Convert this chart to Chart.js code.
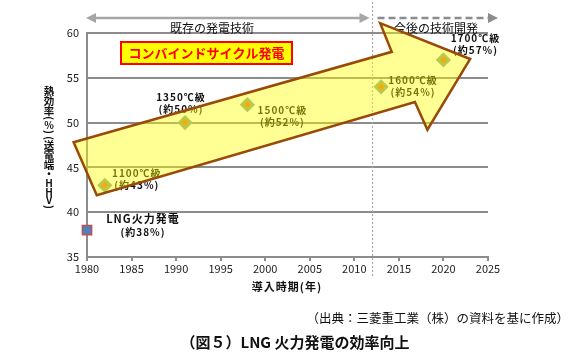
<!DOCTYPE html>
<html>
<head>
<meta charset="utf-8">
<script src="https://cdn.jsdelivr.net/npm/chart.js@4"></script>
<style>
  html, body { margin: 0; padding: 0; background: #fff; }
  #wrap { width: 588px; height: 364px; position: relative; }
</style>
</head>
<body>
<div id="wrap"><canvas id="c" width="588" height="364"></canvas></div>
<script>
// Data
const years = [1982, 1991, 1998, 2013, 2020];
const efficiency = [43, 50, 52, 54, 57];
const classes = ["1100℃級", "1350℃級", "1500℃級", "1600℃級", "1700℃級"];
const lngYear = 1980;
const lngEff = 38;
const boundaryYear = 2012;
const arrowX = [1978.5, 2014.2, 2012.9, 2023.0, 2018.2, 2016.8, 1981.1];
const arrowY = [47.8, 57.9, 61.1, 57.1, 49.2, 52.3, 41.9];

const FONT = '"Noto Sans CJK JP", "Noto Sans", sans-serif';

// label offsets from each point (px), center aligned
const labelOff = [[32, -12], [-4, -25], [35, 6], [32, -7], [32, -22]];

// vertical y title: char + center y
const yTitle = [["熱", 91], ["効", 101], ["率", 111], ["(", 118], ["%", 125], [")", 132], ["(", 138],
  ["送", 145], ["電", 155], ["端", 165], ["・", 174], ["H", 183], ["H", 192], ["V", 200], [")", 207]];

const deco = {
  id: "deco",
  afterDatasetsDraw(chart) {
    const { ctx, scales: { x, y }, chartArea: a } = chart;
    ctx.save();
    ctx.textAlign = "center";
    ctx.textBaseline = "middle";

    // point labels
    ctx.letterSpacing = "1px";
    ctx.font = "bold 10px " + FONT;
    ctx.fillStyle = "#111";
    years.forEach((yr, i) => {
      const px = x.getPixelForValue(yr), py = y.getPixelForValue(efficiency[i]);
      const [dx, dy] = labelOff[i];
      ctx.fillText(classes[i], px + dx, py + dy);
      ctx.fillText(`(約${efficiency[i]}%)`, px + dx, py + dy + 12);
    });
    const lx = x.getPixelForValue(lngYear), ly = y.getPixelForValue(lngEff);
    ctx.font = "bold 11px " + FONT;
    ctx.fillText("LNG火力発電", lx + 56, ly - 11);
    ctx.font = "bold 10px " + FONT;
    ctx.fillText(`(約${lngEff}%)`, lx + 56, ly + 2);
    ctx.letterSpacing = "0px";

    // combined cycle box
    ctx.fillStyle = "#ffff00";
    ctx.fillRect(121, 42, 171, 22);
    ctx.strokeStyle = "#ff0000";
    ctx.lineWidth = 2;
    ctx.strokeRect(121, 42, 171, 22);
    ctx.fillStyle = "#ff0000";
    ctx.font = "bold 13px " + FONT;
    ctx.fillText("コンバインドサイクル発電", 206.5, 53.5);

    // dotted boundary
    const bx = Math.round(x.getPixelForValue(boundaryYear)) + 0.5;
    ctx.strokeStyle = "#aaa";
    ctx.lineWidth = 1.2;
    ctx.setLineDash([2, 2]);
    ctx.beginPath();
    ctx.moveTo(bx, 2);
    ctx.lineTo(bx, a.bottom + 20);
    ctx.stroke();

    // top arrows
    const ay = 18;
    ctx.strokeStyle = "#a6a6a6";
    ctx.fillStyle = "#a6a6a6";
    ctx.lineWidth = 2.5;
    ctx.setLineDash([]);
    ctx.beginPath();
    ctx.moveTo(a.left + 4, ay);
    ctx.lineTo(bx - 6, ay);
    ctx.stroke();
    const head = (hx, dir) => {
      ctx.beginPath();
      ctx.moveTo(hx, ay);
      ctx.lineTo(hx - dir * 10, ay - 5);
      ctx.lineTo(hx - dir * 10, ay + 5);
      ctx.closePath();
      ctx.fill();
    };
    head(a.left - 1, -1);
    head(bx - 3, 1);
    ctx.strokeStyle = "#8c8c8c";
    ctx.fillStyle = "#8c8c8c";
    ctx.setLineDash([7, 4]);
    ctx.beginPath();
    ctx.moveTo(bx + 5, ay);
    ctx.lineTo(a.right + 4, ay);
    ctx.stroke();
    ctx.setLineDash([]);
    head(a.right + 10, 1);

    ctx.fillStyle = "#111";
    ctx.font = "12px " + FONT;
    ctx.fillText("既存の発電技術", 212, 28);
    ctx.fillText("今後の技術開発", 436, 28);

    // big arrow (translucent, on top)
    ctx.beginPath();
    arrowX.forEach((v, i) => {
      const px = x.getPixelForValue(v), py = y.getPixelForValue(arrowY[i]);
      if (i === 0) ctx.moveTo(px, py); else ctx.lineTo(px, py);
    });
    ctx.closePath();
    ctx.fillStyle = "rgba(255,255,0,0.42)";
    ctx.fill();
    ctx.strokeStyle = "#9a4a08";
    ctx.lineWidth = 2.5;
    ctx.lineJoin = "miter";
    ctx.stroke();

    // vertical y title
    ctx.fillStyle = "#111";
    yTitle.forEach(([ch, cy]) => {
      ctx.font = (/[HV%]/.test(ch) ? "bold 10px " : "bold 10.5px ") + FONT;
      if (ch === "(" || ch === ")") {
        ctx.save();
        ctx.translate(49, cy);
        ctx.rotate(Math.PI / 2);
        ctx.fillText(ch, 0, 0);
        ctx.restore();
      } else {
        ctx.fillText(ch, 49, cy);
      }
    });

    // axis title & captions
    ctx.font = "bold 11px " + FONT;
    ctx.letterSpacing = "1px";
    ctx.fillText("導入時期(年)", 287, 287);
    ctx.letterSpacing = "0px";
    ctx.textAlign = "right";
    ctx.font = "12.5px " + FONT;
    ctx.fillText("（出典：三菱重工業（株）の資料を基に作成）", 569, 318);
    ctx.textAlign = "center";
    ctx.font = "bold 15px " + FONT;
    ctx.fillText("（図５）LNG 火力発電の効率向上", 295, 342);
    ctx.restore();
  },
};

new Chart(document.getElementById("c"), {
  type: "scatter",
  data: {
    datasets: [
      {
        label: "GT",
        data: years.map((yr, i) => ({ x: yr, y: efficiency[i] })),
        pointStyle: "rectRot",
        radius: 5.5,
        backgroundColor: "#ff6a00",
        borderColor: "#86a486",
        borderWidth: 3,
      },
      {
        label: "LNG",
        data: [{ x: lngYear, y: lngEff }],
        pointStyle: "rect",
        radius: 6.5,
        backgroundColor: "#4f81bd",
        borderColor: "#c0504d",
        borderWidth: 1.5,
        clip: false,
      },
    ],
  },
  options: {
    responsive: false,
    animation: false,
    events: [],
    layout: { padding: { left: 0, right: 100, top: 33, bottom: 87 } },
    plugins: { legend: { display: false }, tooltip: { enabled: false } },
    scales: {
      x: {
        type: "linear",
        min: 1980,
        max: 2025,
        afterFit: (s) => { s.height = 20; },
        ticks: { stepSize: 5, color: "#222", font: { size: 11, family: FONT }, padding: 1, callback: (v) => v },
        grid: { drawOnChartArea: false, drawTicks: true, tickLength: 4, color: "#8c8c8c", lineWidth: 2 },
        border: { color: "#8c8c8c", width: 2 },
      },
      y: {
        min: 35,
        max: 60,
        afterFit: (s) => { s.width = 87; },
        ticks: { stepSize: 5, color: "#222", font: { size: 11, family: FONT }, padding: 8 },
        grid: { color: "#8c8c8c", lineWidth: 2, drawTicks: false },
        border: { color: "#8c8c8c", width: 2 },
      },
    },
  },
  plugins: [deco],
});
</script>
</body>
</html>
